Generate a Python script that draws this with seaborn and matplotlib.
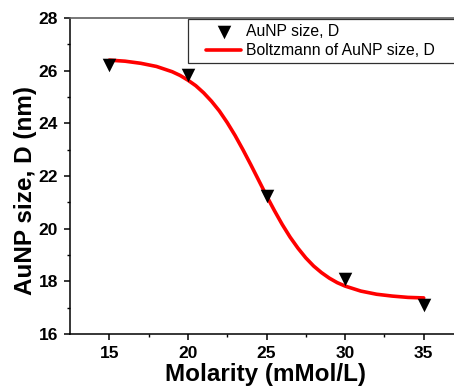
import numpy as np
import seaborn as sns
import matplotlib
matplotlib.use("Agg")
import matplotlib.pyplot as plt
from matplotlib.lines import Line2D
from matplotlib.collections import PathCollection
from matplotlib.legend_handler import HandlerLine2D, HandlerPathCollection

# measured AuNP sizes
molarity = [15, 20, 25, 30, 35]
size_d = [26.23, 25.85, 21.24, 18.09, 17.11]

# Boltzmann fit curve
fit_x = [15, 16, 17, 18, 19, 19.5, 20, 20.5, 21, 21.5, 22, 22.5, 23, 23.5, 24,
         24.5, 25, 25.5, 26, 26.5, 27, 27.5, 28, 28.5, 29, 29.5, 30, 31, 32, 33, 34, 35]
fit_y = [26.40, 26.36, 26.28, 26.16, 25.96, 25.82, 25.64, 25.43, 25.16, 24.84, 24.47,
         24.03, 23.54, 23.00, 22.43, 21.84, 21.25, 20.69, 20.16, 19.68, 19.26, 18.89,
         18.58, 18.33, 18.12, 17.95, 17.82, 17.63, 17.51, 17.44, 17.39, 17.37]

x_ticks = [15, 20, 25, 30, 35]
y_ticks = [16, 18, 20, 22, 24, 26, 28]

sns.set_style("ticks")
plt.rcParams['font.family'] = ['Liberation Sans', 'DejaVu Sans']
plt.rcParams['text.color'] = 'black'
plt.rcParams['axes.labelcolor'] = 'black'
plt.rcParams['xtick.color'] = 'black'
plt.rcParams['ytick.color'] = 'black'

fig = plt.figure(figsize=(4.54, 3.92), dpi=100)
ax = fig.add_axes([70 / 454, 58 / 392, 393 / 454, 316 / 392])

sns.lineplot(x=fit_x, y=fit_y, ax=ax, color="#ff0000", linewidth=2.6,
             sort=False, label="Boltzmann of AuNP size, D", zorder=2)
sns.scatterplot(x=molarity, y=size_d, ax=ax, marker="v", s=95, color="black",
                edgecolor="black", linewidth=0, label="AuNP size, D", zorder=3)

ax.set_xlim(12.5, 37.5)
ax.set_ylim(16, 28)
ax.set_xticks(x_ticks)
ax.set_yticks(y_ticks)
ax.set_xticks(np.arange(17.5, 37.5, 5), minor=True)
ax.set_yticks(np.arange(17, 28, 2), minor=True)
ax.tick_params(which="major", direction="out", length=4, width=1.1, colors="black",
               labelsize=12.5, pad=4.5)
ax.tick_params(which="minor", direction="out", length=2.5, width=1, colors="black")
for lab in ax.get_xticklabels() + ax.get_yticklabels():
    lab.set_fontweight("bold")

ax.spines["left"].set_linewidth(1.1)
ax.spines["bottom"].set_linewidth(1.1)
ax.spines["left"].set_color("black")
ax.spines["bottom"].set_color("black")
ax.spines["top"].set_visible(True)
ax.spines["top"].set_color("#606060")
ax.spines["top"].set_linewidth(1.2)
ax.spines["right"].set_visible(False)

ax.set_xlabel("Molarity (mMol/L)", fontsize=17.5, fontweight="bold", color="black")
ax.set_ylabel("AuNP size, D (nm)", fontsize=17.5, fontweight="bold", color="black")
ax.xaxis.set_label_coords(0.498, -0.093)
ax.yaxis.set_label_coords(-0.084, 0.455)

handles, labels = ax.get_legend_handles_labels()
order = [labels.index("AuNP size, D"), labels.index("Boltzmann of AuNP size, D")]
fs = 11.3
leg = ax.legend([handles[i] for i in order], [labels[i] for i in order],
                loc="upper left", mode="expand",
                bbox_to_anchor=(188 / 454, 19 / 392, 290 / 454, 354 / 392),
                bbox_transform=fig.transFigure, borderaxespad=0,
                frameon=True, fancybox=False, fontsize=fs, handlelength=3.1,
                handletextpad=0.3, borderpad=0.3, labelspacing=0.3,
                handler_map={Line2D: HandlerLine2D(xpad=0.85),
                             PathCollection: HandlerPathCollection(xpad=0.85)})
leg.get_frame().set_edgecolor("#303030")
leg.get_frame().set_linewidth(0.9)
leg.get_frame().set_alpha(1)
for t in leg.get_texts():
    t.set_color("black")

fig.savefig("out.png", dpi=100)
